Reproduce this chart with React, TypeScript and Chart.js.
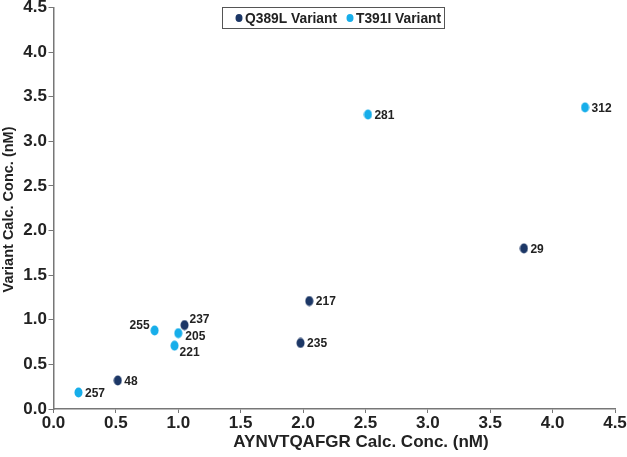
import React, { useEffect, useRef } from "react";
import { Chart, registerables } from "chart.js";
Chart.register(...registerables);

const seriesNames = ["Q389L Variant", "T391I Variant"];
const seriesColors = ["#1c3766", "#17aeea"];
const q389lX = [0.515, 1.05, 2.05, 1.98, 3.77];
const q389lY = [0.32, 0.94, 1.21, 0.74, 1.80];
const q389lLabels = ["48", "237", "217", "235", "29"];
const t391iX = [0.2, 0.81, 1.0, 0.97, 2.52, 4.26];
const t391iY = [0.185, 0.88, 0.85, 0.71, 3.30, 3.38];
const t391iLabels = ["257", "255", "205", "221", "281", "312"];
const ticksLabels = ["0.0", "0.5", "1.0", "1.5", "2.0", "2.5", "3.0", "3.5", "4.0", "4.5"];
const xTitle = "AYNVTQAFGR Calc. Conc. (nM)";
const yTitle = "Variant Calc. Conc. (nM)";
const labelPlacement: Record<string, string> = { "255": "left", "237": "upright", "205": "downright", "221": "downright2" };

const FONT = "'Liberation Sans', Arial, sans-serif";

function ellipseStyle(color: string) {
  const c = document.createElement("canvas");
  c.width = 9;
  c.height = 11;
  const g = c.getContext("2d")!;
  g.fillStyle = color;
  g.beginPath();
  g.ellipse(4.5, 5.5, 4, 5, 0, 0, Math.PI * 2);
  g.fill();
  return c;
}

const pointLabels = {
  id: "pointLabels",
  afterDatasetsDraw(chart: any) {
    const ctx = chart.ctx;
    ctx.save();
    ctx.font = `bold 12px ${FONT}`;
    ctx.fillStyle = "#222";
    ctx.textBaseline = "middle";
    chart.data.datasets.forEach((ds: any, di: number) => {
      const meta = chart.getDatasetMeta(di);
      meta.data.forEach((pt: any, i: number) => {
        const lab = ds.labels[i];
        const pl = labelPlacement[lab] || "right";
        let x = pt.x + 6.5, y = pt.y + 1;
        ctx.textAlign = "left";
        if (pl === "left") { ctx.textAlign = "right"; x = pt.x - 5; y = pt.y - 5; }
        if (pl === "upright") { x = pt.x + 5; y = pt.y - 5; }
        if (pl === "downright") { x = pt.x + 7; y = pt.y + 4; }
        if (pl === "downright2") { x = pt.x + 5; y = pt.y + 7.5; }
        ctx.fillText(lab, x, y);
      });
    });
    ctx.restore();
  },
};

const titles = {
  id: "titles",
  afterDraw(chart: any) {
    const ctx = chart.ctx;
    ctx.save();
    ctx.fillStyle = "#222";
    ctx.textAlign = "center";
    ctx.textBaseline = "middle";
    ctx.font = `bold 17px ${FONT}`;
    ctx.fillText(xTitle, 361, 442);
    ctx.translate(9, 209.5);
    ctx.rotate(-Math.PI / 2);
    ctx.font = `bold 14.5px ${FONT}`;
    ctx.fillText(yTitle, 0, 0);
    ctx.restore();
  },
};

const boxLegend = {
  id: "boxLegend",
  afterDraw(chart: any) {
    const ctx = chart.ctx;
    ctx.save();
    const bx = 222, by = 7, bw = 222, bh = 21;
    ctx.fillStyle = "#fff";
    ctx.fillRect(bx, by, bw, bh);
    ctx.strokeStyle = "#555";
    ctx.lineWidth = 1;
    ctx.strokeRect(bx + 0.5, by + 0.5, bw, bh);
    ctx.font = `bold 13.8px ${FONT}`;
    ctx.textBaseline = "middle";
    ctx.textAlign = "left";
    const cy = by + bh / 2 + 1.5;
    const dotX = [239, 350];
    seriesNames.forEach((n, i) => {
      ctx.fillStyle = seriesColors[i];
      ctx.beginPath();
      ctx.ellipse(dotX[i], cy - 1, 3.5, 4, 0, 0, Math.PI * 2);
      ctx.fill();
      ctx.fillStyle = "#222";
      ctx.fillText(n, dotX[i] + 6, cy);
    });
    ctx.restore();
  },
};

export default function App() {
  const ref = useRef<HTMLCanvasElement>(null);
  useEffect(() => {
    const mk = (xs: number[], ys: number[]) => xs.map((x, i) => ({ x, y: ys[i] }));
    const chart = new Chart(ref.current!, {
      type: "scatter",
      data: {
        datasets: [
          { label: seriesNames[0], data: mk(q389lX, q389lY), labels: q389lLabels, pointStyle: ellipseStyle(seriesColors[0]), backgroundColor: seriesColors[0], borderColor: seriesColors[0], pointRadius: 5, pointHoverRadius: 5 } as any,
          { label: seriesNames[1], data: mk(t391iX, t391iY), labels: t391iLabels, pointStyle: ellipseStyle(seriesColors[1]), backgroundColor: seriesColors[1], borderColor: seriesColors[1], pointRadius: 5, pointHoverRadius: 5 } as any,
        ],
      },
      options: {
        animation: false,
        responsive: false,
        layout: { padding: { top: 6, right: 12, left: 0, bottom: 0 } },
        plugins: { legend: { display: false }, tooltip: { enabled: false } },
        scales: {
          x: {
            min: 0, max: 4.5,
            afterFit: (s: any) => { s.height = 48; },
            ticks: { stepSize: 0.5, color: "#222", font: { family: FONT, size: 17, weight: "bold" }, padding: 0, callback: (v: any) => ticksLabels[Math.round(Number(v) * 2)] ?? "", maxRotation: 0 },
            grid: { drawOnChartArea: false, tickLength: 4, color: "#777" },
            border: { color: "#777", width: 1.5 },
            title: { display: false },
          },
          y: {
            min: 0, max: 4.5,
            afterFit: (s: any) => { s.width = 53.5; },
            ticks: { stepSize: 0.5, color: "#222", font: { family: FONT, size: 17, weight: "bold", lineHeight: 0.7 }, padding: 1.5, callback: (v: any) => ticksLabels[Math.round(Number(v) * 2)] ?? "" },
            grid: { drawOnChartArea: false, tickLength: 5, color: "#777" },
            border: { color: "#777", width: 1.5 },
            title: { display: false },
          },
        },
      },
      plugins: [pointLabels, titles, boxLegend],
    });
    return () => chart.destroy();
  }, []);
  return (
    <div style={{ position: "absolute", left: 0, top: 0, width: 627, height: 457, background: "#fff" }}>
      <canvas ref={ref} width={627} height={457} style={{ width: 627, height: 457 }} />
    </div>
  );
}
